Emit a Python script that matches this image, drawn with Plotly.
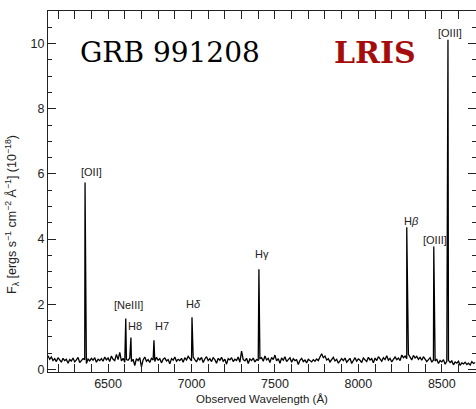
import numpy as np
import plotly.graph_objects as go

# Continuum flux (10^-18 erg s^-1 cm^-2 A^-1), sampled every 10 A from 6140 A
wave_start = 6140
wave_step = 10
continuum = [
    0.42, 0.31, 0.38, 0.27, 0.33, 0.24, 0.36, 0.29, 0.22, 0.34, 0.27, 0.31, 0.19, 0.30, 0.26, 0.35,
    0.23, 0.29, 0.37, 0.21, 0.28, 0.33, 0.30, 0.18, 0.32, 0.26, 0.34, 0.28, 0.36, 0.22, 0.31, 0.27,
    0.33, 0.25, 0.38, 0.29, 0.35, 0.24, 0.41, 0.31, 0.27, 0.46, 0.30, 0.52, 0.26, 0.34, 0.22, 0.30,
    0.28, 0.35, 0.24, 0.31, 0.12, 0.33, 0.27, 0.36, 0.08, 0.29, 0.38, 0.25, 0.30, 0.21, 0.34, 0.29,
    0.24, 0.37, 0.28, 0.33, 0.20, 0.31, 0.35, 0.26, 0.30, 0.17, 0.33, 0.28, 0.38, 0.25, 0.31, 0.27,
    0.34, 0.22, 0.36, 0.29, 0.40, 0.33, 0.26, 0.38, 0.30, 0.23, 0.35, 0.29, 0.37, 0.21, 0.32, 0.39,
    0.27, 0.33, 0.24, 0.36, 0.30, 0.19, 0.34, 0.28, 0.37, 0.25, 0.31, 0.16, 0.33, 0.29, 0.36, 0.24,
    0.31, 0.27, 0.38, 0.22, 0.56, 0.30, 0.26, 0.34, 0.18, 0.32, 0.27, 0.35, 0.23, 0.30, 0.28, 0.33,
    0.36, 0.25, 0.41, 0.29, 0.34, 0.21, 0.37, 0.30, 0.44, 0.26, 0.33, 0.19, 0.35, 0.28, 0.39, 0.24,
    0.31, 0.36, 0.22, 0.33, 0.27, 0.30, 0.15, 0.28, 0.34, 0.24, 0.29, 0.20, 0.31, 0.26, 0.23, 0.30,
    0.25, 0.32, 0.27, 0.38, 0.48, 0.36, 0.41, 0.29, 0.33, 0.23, 0.30, 0.37, 0.26, 0.31, 0.19, 0.28,
    0.33, 0.27, 0.35, 0.22, 0.30, 0.34, 0.18, 0.29, 0.36, 0.25, 0.32, 0.28, 0.21, 0.35, 0.30, 0.24,
    0.37, 0.29, 0.33, 0.20, 0.35, 0.27, 0.39, 0.31, 0.25, 0.36, 0.30, 0.42, 0.28, 0.34, 0.23, 0.31,
    0.38, 0.30, 0.35, 0.27, 0.44, 0.36, 0.41, 0.33, 0.46, 0.38, 0.29, 0.43, 0.35, 0.40, 0.31, 0.37,
    0.28, 0.39, 0.33, 0.24, 0.30, 0.36, 0.22, 0.29, 0.26, 0.31, 0.18, 0.27, 0.23, 0.30, 0.16, 0.25,
    0.28, 0.21, 0.26, 0.14, 0.23, 0.19, 0.25, 0.12, 0.20, 0.17, 0.22, 0.15, 0.19, 0.13, 0.24, 0.18,
    0.21,
]

# Emission lines: label, observed wavelength (A), peak flux
line_labels = ["[OII]", "[NeIII]", "H8", "H7", "H<i>δ</i>", "Hγ", "H<i>β</i>", "[OIII]", "[OIII]"]
line_waves = [6362, 6606, 6637, 6775, 7003, 7404, 8290, 8452, 8537]
line_peaks = [5.74, 1.56, 0.98, 0.89, 1.60, 3.07, 4.36, 3.77, 10.12]

# label placement relative to each line peak (pixels)
label_dx = [6, 3, 4, 8, 1, 3, 5, 1, 2]
label_dy = [10, 14, 11, 14, 13, 15, 6, 7, 7]

wave = wave_start + wave_step * np.arange(len(continuum))
all_w = np.concatenate([wave, np.array(line_waves, dtype=float)])
all_f = np.concatenate([np.array(continuum), np.array(line_peaks)])
order = np.argsort(all_w, kind="stable")
spec_w = all_w[order]
spec_f = all_f[order]

x_range = [6140, 8705]
y_range = [-0.08, 11.0]

fig = go.Figure()
fig.add_trace(go.Scatter(
    x=spec_w, y=spec_f, mode="lines",
    line=dict(color="black", width=1.3),
    hoverinfo="skip", showlegend=False,
))
# companion trace for the right-hand tick axis
fig.add_trace(go.Scatter(
    x=spec_w, y=spec_f, mode="lines", yaxis="y2",
    line=dict(color="rgba(0,0,0,0)", width=0),
    hoverinfo="skip", showlegend=False,
))

tick_font = dict(family="Liberation Sans, Arial, sans-serif", size=12.5, color="#222")
axis_col = "#222"

fig.update_layout(
    width=476, height=409,
    margin=dict(l=48, r=0, t=11, b=37),
    paper_bgcolor="white", plot_bgcolor="white",
    xaxis=dict(
        range=x_range, showgrid=False, zeroline=False,
        showline=True, linecolor=axis_col, linewidth=1.3, mirror="allticks",
        ticks="inside", ticklen=8, tickwidth=1, tickcolor=axis_col,
        tick0=6500, dtick=500, tickfont=tick_font,
        minor=dict(ticks="inside", ticklen=4, dtick=100, tick0=6500, tickcolor=axis_col),
        title=dict(text="Observed Wavelength (Å)",
                   font=dict(family="Liberation Sans, Arial, sans-serif", size=11.5, color="#222"),
                   standoff=4),
    ),
    yaxis=dict(
        range=y_range, showgrid=False, zeroline=False,
        showline=True, linecolor=axis_col, linewidth=1.3, mirror=False,
        ticks="inside", ticklen=8, tickwidth=1, tickcolor=axis_col,
        tick0=0, dtick=2, tickfont=tick_font,
        minor=dict(ticks="inside", ticklen=4, dtick=0.5, tick0=0, tickcolor=axis_col),
    ),
    yaxis2=dict(
        range=y_range, overlaying="y", side="right", anchor="x",
        showgrid=False, zeroline=False, showline=False, showticklabels=False,
        ticks="inside", ticklen=8, tickwidth=1, tickcolor=axis_col,
        tick0=0, dtick=2,
        minor=dict(ticks="inside", ticklen=4, dtick=0.5, tick0=0, tickcolor=axis_col),
    ),
)

label_font = dict(family="Liberation Sans, Arial, sans-serif", size=11, color="#222")
for name, w, p, dx, dy in zip(line_labels, line_waves, line_peaks, label_dx, label_dy):
    fig.add_annotation(
        x=w, y=p, xref="x", yref="y", text=name, showarrow=False,
        xanchor="center", yanchor="middle", xshift=dx, yshift=dy,
        font=label_font,
    )

fig.add_annotation(
    xref="paper", yref="paper", x=-0.084, y=0.435,
    text="F<sub>λ</sub> [ergs s<sup>−1</sup> cm<sup>−2</sup> Å<sup>−1</sup>] (10<sup>−18</sup>)",
    textangle=-90, showarrow=False, xanchor="center", yanchor="middle",
    font=dict(family="Liberation Sans, Arial, sans-serif", size=12.5, color="#222"),
)

fig.add_annotation(
    xref="paper", yref="paper", x=0.285, y=0.886, text="GRB 991208",
    showarrow=False, xanchor="center", yanchor="middle",
    font=dict(family="DejaVu Serif, serif", size=28, color="black"),
)
fig.add_annotation(
    xref="paper", yref="paper", x=0.763, y=0.886, text="<b>LRIS</b>",
    showarrow=False, xanchor="center", yanchor="middle",
    font=dict(family="DejaVu Serif, serif", size=30, color="#a50d0d"),
)

fig.write_html("out.html")
